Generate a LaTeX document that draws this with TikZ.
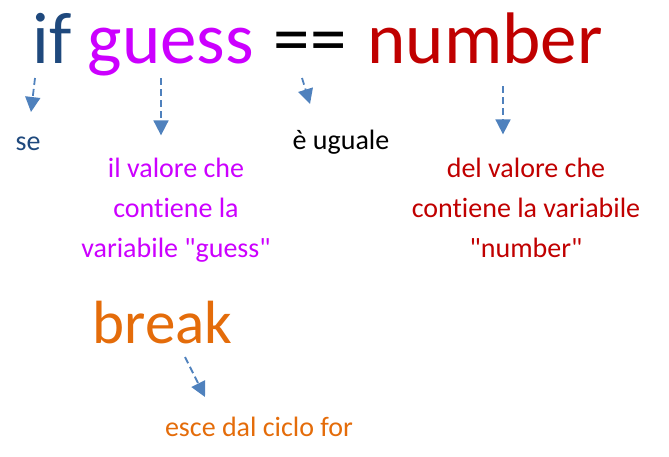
\documentclass[tikz,border=0pt]{standalone}
\usepackage{fontspec}
\setmainfont[Ligatures={NoCommon}]{Carlito}
\usetikzlibrary{arrows.meta}
\definecolor{ifblue}{HTML}{1F497D}
\definecolor{guesspurple}{HTML}{CC00FF}
\definecolor{numberred}{HTML}{C00000}
\definecolor{breakorange}{HTML}{E46C0A}
\definecolor{arrowblue}{HTML}{4F81BD}

\begin{document}
\begin{tikzpicture}[x=1pt,y=-1pt,
  keyword/.style={anchor=base,inner sep=0pt,font=\fontsize{73}{80}\selectfont},
  meaning/.style={anchor=base,inner sep=0pt,align=center,font=\fontsize{28}{40}\selectfont},
  pointer/.style={draw=arrowblue,line width=1.8pt,dash pattern=on 7pt off 4pt,
    -{Triangle[length=15pt,width=15pt]}}]
\useasboundingbox (0,0) rectangle (669,456);
\node[keyword,text=ifblue] (if) at (52.5,63) {if};
\node[keyword,text=guesspurple] (guess) at (171,63) {guess};
\node[keyword] (eq) at (310,63) {==};
\node[keyword,text=numberred] (number) at (485,63) {number};
\node[keyword,text=breakorange,font=\fontsize{61}{70}\selectfont] (break) at (162.5,343) {break};
\node[meaning,text=ifblue] (se) at (28,150) {se};
\node[meaning,text=guesspurple] (guessval) at (176,257) {il valore che\\contiene la\\variabile \textquotedbl guess\textquotedbl};
\node[meaning] (uguale) at (341,149) {è uguale};
\node[meaning,text=numberred] (numberval) at (526,257) {del valore che\\contiene la variabile\\\textquotedbl number\textquotedbl};
\node[meaning,text=breakorange] (esce) at (259,436) {esce dal ciclo for};
\draw[pointer] ([shift={(-17.5,15)}]if.base) -- ([shift={(3,-38)}]se.base);
\draw[pointer] ([shift={(-10,15)}]guess.base) -- ([shift={(-15,-22)}]guessval.north);
\draw[pointer] ([shift={(-8,15)}]eq.base) -- ([shift={(-31,-45)}]uguale.base);
\draw[pointer] ([shift={(18,23)}]number.base) -- ([shift={(-23,-23)}]numberval.north);
\draw[pointer] ([shift={(22.5,14)}]break.base) -- ([shift={(-54,-39)}]esce.base);
\end{tikzpicture}
\end{document}
